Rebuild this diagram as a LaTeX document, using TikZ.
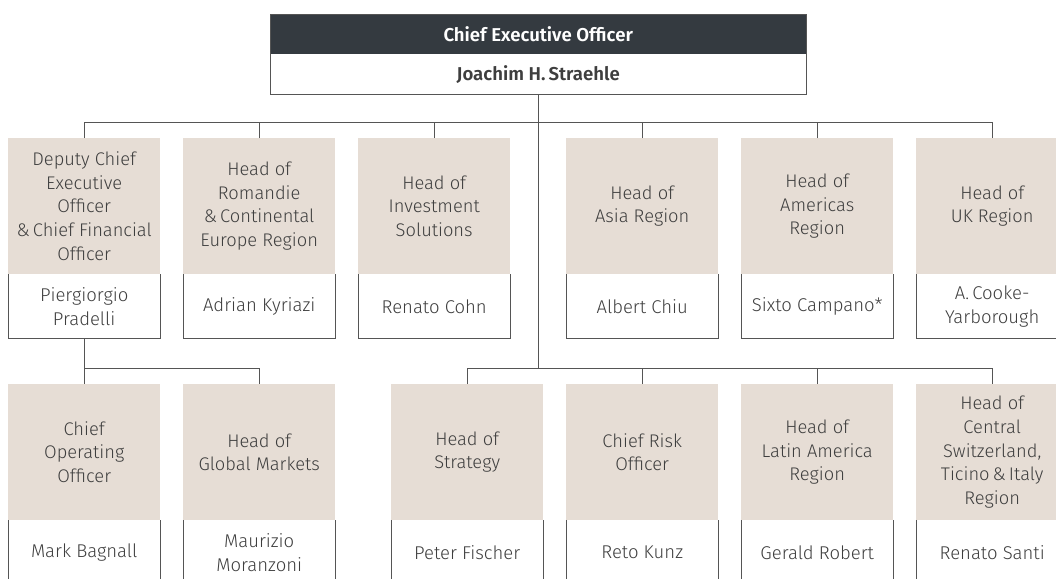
\documentclass[tikz,border=0pt]{standalone}
\usepackage{fontspec}
\setmainfont{Fira Sans Light}[BoldFont={Fira Sans SemiBold}]
\usetikzlibrary{positioning}

\definecolor{ceodark}{HTML}{343A40}
\definecolor{rolebeige}{HTML}{E6DDD5}
\definecolor{linegray}{HTML}{555555}
\definecolor{txtgray}{HTML}{3E3E3E}

\tikzset{
  role/.style={fill=rolebeige, minimum width=152pt, minimum height=136pt,
    inner sep=0pt, align=center, text=txtgray, anchor=north west,
    font=\fontsize{18.3}{23.6}\selectfont},
  person/.style={minimum width=152pt, minimum height=64pt, inner sep=0pt,
    align=center, text=txtgray, font=\fontsize{18.5}{23.6}\selectfont},
  ceotitle/.style={fill=ceodark, minimum width=536pt, minimum height=40pt,
    inner sep=0pt, text=white, anchor=north west,
    font=\fontsize{18.6}{20}\selectfont\bfseries},
  ceoperson/.style={minimum width=536pt, minimum height=40pt, inner sep=0pt,
    text=txtgray, font=\fontsize{18.6}{20}\selectfont\bfseries},
  link/.style={draw=linegray, line width=0.9pt}
}

\begin{document}
\begin{tikzpicture}[x=1pt, y=-1pt]
\clip (0,0) rectangle (1056,578);
\useasboundingbox (0,0) rectangle (1056,578);

\node[ceotitle] (ceo) at (270,14) {Chief Executive Officer};
\node[ceoperson, below=0pt of ceo] (ceoname) {Joachim H.\,Straehle};
\draw[link] (ceo.north west) rectangle (ceoname.south east);

\node[role] (r1) at (8,138) {Deputy Chief\\Executive\\Officer\\\&\,Chief Financial\\Officer};
\node[role] (r2) at (183,138) {Head of\\Romandie\\\&\,Continental\\Europe Region};
\node[role] (r3) at (358,138) {Head of\\Investment\\Solutions};
\node[role] (r4) at (566,138) {Head of\\Asia Region};
\node[role] (r5) at (741,138) {Head of\\Americas\\Region};
\node[role] (r6) at (916,138) {Head of\\UK Region};

\node[person, below=0pt of r1] (p1) {Piergiorgio\\Pradelli};
\node[person, below=0pt of r2] (p2) {Adrian Kyriazi};
\node[person, below=0pt of r3] (p3) {Renato Cohn};
\node[person, below=0pt of r4] (p4) {Albert Chiu};
\node[person, below=0pt of r5] (p5) {Sixto Campano*};
\node[person, below=0pt of r6] (p6) {A.\,Cooke-\\Yarborough};

\node[role] (b1) at (8,384) {Chief\\Operating\\Officer};
\node[role] (b2) at (183,384) {Head of\\Global Markets};
\node[role] (b3) at (391,384) {Head of\\Strategy};
\node[role] (b4) at (566,384) {Chief Risk\\Officer};
\node[role] (b5) at (741,384) {Head of\\Latin America\\Region};
\node[role] (b6) at (916,384) {Head of\\Central\\Switzerland,\\Ticino\,\&\,Italy\\Region};

\node[person, below=0pt of b1] (q1) {Mark Bagnall};
\node[person, below=0pt of b2] (q2) {Maurizio\\Moranzoni};
\node[person, below=0pt of b3] (q3) {Peter Fischer};
\node[person, below=0pt of b4] (q4) {Reto Kunz};
\node[person, below=0pt of b5] (q5) {Gerald Robert};
\node[person, below=0pt of b6] (q6) {Renato Santi};

\foreach \n in {p1,p2,p3,p4,p5,p6,q1,q2,q3,q4,q5,q6}
  \draw[link] (\n.north west) -- (\n.south west) -- (\n.south east) -- (\n.north east);

\coordinate (topbus) at (0,122.5);
\coordinate (botbus) at (0,368.5);

\draw[link] (ceoname.south) -- (ceoname.south |- botbus);
\draw[link] (r1.north) -- (r1.north |- topbus) -- (r6.north |- topbus) -- (r6.north);
\foreach \r in {r2,r3,r4,r5}
  \draw[link] (\r.north) -- (\r.north |- topbus);

\draw[link] (p1.south) -- (b1.north);
\draw[link] (p1.south |- botbus) -- (b2.north |- botbus) -- (b2.north);

\draw[link] (b3.north) -- (b3.north |- botbus) -- (b6.north |- botbus) -- (b6.north);
\foreach \b in {b4,b5}
  \draw[link] (\b.north) -- (\b.north |- botbus);
\end{tikzpicture}
\end{document}
